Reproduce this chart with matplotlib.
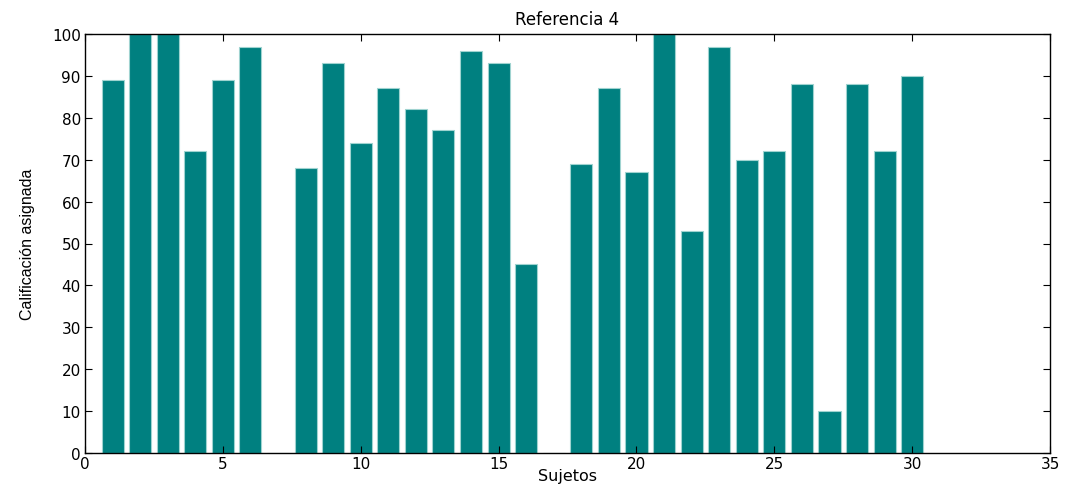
import numpy as np
import matplotlib
matplotlib.use("Agg")
import matplotlib.pyplot as plt

# Scores given to each subject for reference 4
sujetos = np.arange(1, 31)
calificacion = [89, 100, 100, 72, 89, 97, 0, 68, 93, 74,
                87, 82, 77, 96, 93, 45, 0, 69, 87, 67,
                100, 53, 97, 70, 72, 88, 10, 88, 72, 90]

plt.rcParams['font.family'] = ['DejaVu Sans']

fig = plt.figure(figsize=(10.65, 4.89), dpi=100)
ax = fig.add_axes([0.0798, 0.0716, 0.9062, 0.8568])

ax.bar(sujetos, calificacion, width=0.8, color='#008080',
       edgecolor='#9fd3d0', linewidth=0.8)

ax.set_xlim(0, 35)
ax.set_ylim(0, 100)
ax.set_xticks(np.arange(0, 36, 5))
ax.set_yticks(np.arange(0, 101, 10))
ax.tick_params(direction='in', top=True, right=True, length=5,
               labelsize=11, pad=3)
ax.tick_params(axis='x', pad=2)
for s in ax.spines.values():
    s.set_linewidth(1.0)

ax.set_title('Referencia 4', fontsize=12, pad=7)
ax.set_xlabel('Sujetos', fontsize=11.5, labelpad=-2)
ax.set_ylabel('Calificación asignada', fontsize=11.5,
              family=['Liberation Sans Narrow', 'Liberation Sans'],
              labelpad=12)

fig.savefig('out.png', dpi=100)
